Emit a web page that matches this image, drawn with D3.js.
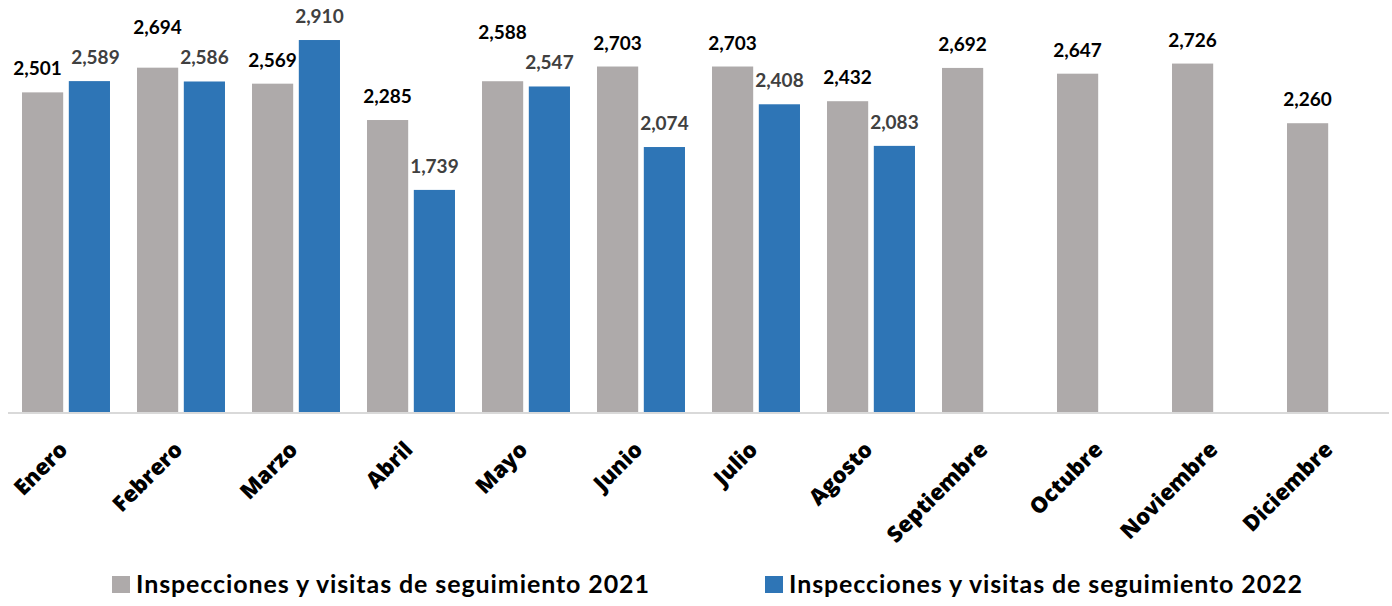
<!DOCTYPE html>
<html>
<head>
<meta charset="utf-8">
<script src="https://cdn.jsdelivr.net/npm/d3@7"></script>
<style>
  body { margin: 0; background: #ffffff; }
</style>
</head>
<body>
<div id="chart"></div>
<script>
// data
var months = ["Enero", "Febrero", "Marzo", "Abril", "Mayo", "Junio", "Julio", "Agosto",
    "Septiembre", "Octubre", "Noviembre", "Diciembre"];
var values2021 = [2501, 2694, 2569, 2285, 2588, 2703, 2703, 2432, 2692, 2647, 2726, 2260];
var values2022 = [2589, 2586, 2910, 1739, 2547, 2074, 2408, 2083];
var seriesNames = ["Inspecciones y visitas de seguimiento 2021", "Inspecciones y visitas de seguimiento 2022"];

var width = 1392;
var height = 606;
var baseline = 412.5;

var colors = ["#aeaaaa", "#2e75b6"];
var labelColors = ["#000000", "#404040"];

var svg = d3.select("#chart")
    .append("svg")
    .attr("width", width)
    .attr("height", height);

var x = d3.scaleBand()
    .domain(months)
    .range([8.5, 1388.5])
    .paddingInner(0.235)
    .paddingOuter(0.1175);

var xSeries = d3.scaleBand()
    .domain([0, 1])
    .range([0, x.bandwidth()])
    .paddingInner(0.12);

var y = d3.scaleLinear()
    .domain([0, 3000])
    .range([baseline, 28.5]);

var rows = [];
months.forEach(function (m, i) {
    rows.push({ month: m, s: 0, value: values2021[i] });
    if (values2022[i] !== undefined) rows.push({ month: m, s: 1, value: values2022[i] });
});

// label positions: above the bar, 2021 label moved when it would collide with 2022 label
rows.forEach(function (d) {
    d.lx = x(d.month) + xSeries(d.s) + xSeries.bandwidth() / 2;
    d.ly = y(d.value) - 17;
});
months.forEach(function (m) {
    var a = rows.find(function (d) { return d.month === m && d.s === 0; });
    var b = rows.find(function (d) { return d.month === m && d.s === 1; });
    if (!b) return;
    var diff = a.ly - b.ly;
    if (diff > -20 && diff < 10) a.ly = b.ly - 30;
    else if (diff >= 10 && diff < 20) { a.lx -= 5; b.lx += 6; }
});

// bars
svg.append("g")
    .selectAll("rect")
    .data(rows)
    .join("rect")
    .attr("x", function (d) { return x(d.month) + xSeries(d.s); })
    .attr("y", function (d) { return y(d.value); })
    .attr("width", xSeries.bandwidth())
    .attr("height", function (d) { return baseline - y(d.value); })
    .attr("fill", function (d) { return colors[d.s]; });

// axis line
svg.append("line")
    .attr("x1", 8)
    .attr("x2", 1389)
    .attr("y1", baseline + 0.5)
    .attr("y2", baseline + 0.5)
    .attr("stroke", "#d9d9d9")
    .attr("stroke-width", 2);

// value labels
svg.append("g")
    .selectAll("text")
    .data(rows)
    .join("text")
    .attr("x", function (d) { return d.lx; })
    .attr("y", function (d) { return d.ly; })
    .attr("text-anchor", "middle")
    .attr("font-family", "Lato, 'Open Sans', sans-serif")
    .attr("font-weight", 700)
    .style("font-size", "19px")
    .attr("fill", function (d) { return labelColors[d.s]; })
    .text(function (d) { return d3.format(",")(d.value); });

// month labels
svg.append("g")
    .selectAll("text")
    .data(months)
    .join("text")
    .attr("transform", function (d) {
        return "translate(" + (x(d) + x.bandwidth() / 2 + 3) + "," + 451 + ") rotate(-45)";
    })
    .attr("text-anchor", "end")
    .attr("font-family", "'Open Sans', sans-serif")
    .attr("font-weight", 800)
    .style("font-size", "22px")
    .attr("fill", "#000000")
    .text(function (d) { return d; });

// legend
var legendX = [112, 765];
var legend = svg.append("g")
    .selectAll("g")
    .data(seriesNames)
    .join("g")
    .attr("transform", function (d, i) { return "translate(" + legendX[i] + ",576)"; });

legend.append("rect")
    .attr("width", 18)
    .attr("height", 17)
    .attr("fill", function (d, i) { return colors[i]; });

legend.append("text")
    .attr("x", 24)
    .attr("y", 17)
    .attr("font-family", "Lato, 'Open Sans', sans-serif")
    .attr("font-weight", 700)
    .style("font-size", "25px")
    .style("letter-spacing", "0.9px")
    .attr("fill", "#000000")
    .text(function (d) { return d; });
</script>
</body>
</html>
